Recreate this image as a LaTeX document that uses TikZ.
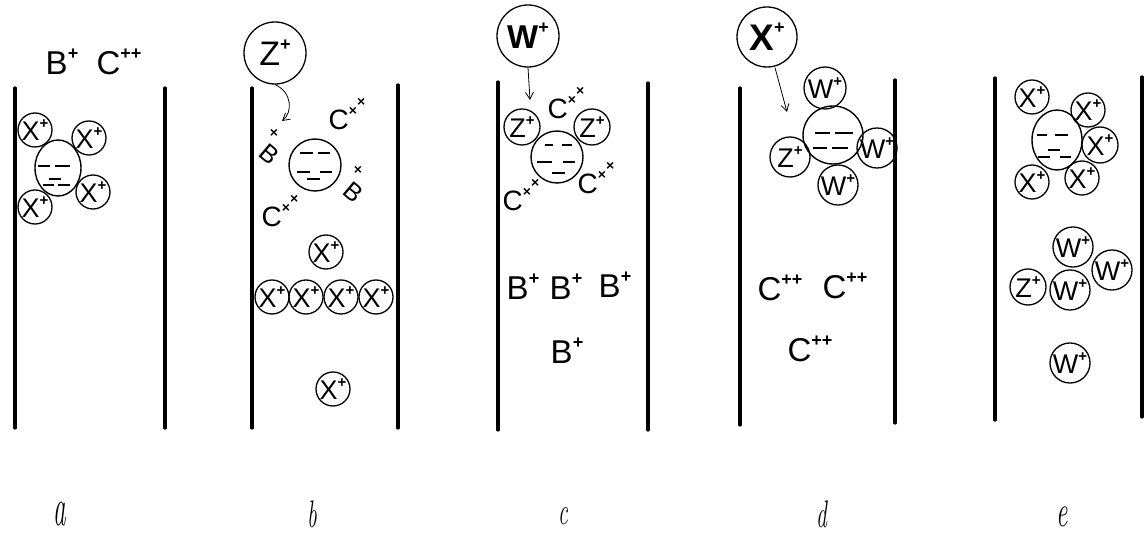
\documentclass[tikz,border=0pt]{standalone}
\usepackage{fontspec}
\newfontfamily\hand{Liberation Sans}
\usetikzlibrary{arrows.meta,shapes.geometric}
% letter with a raised charge sign
\newcommand\ionlbl[3][18]{#2\raisebox{0.45em}{\fontsize{#1}{#1}\selectfont\bfseries #3}}
% C with two small crosses climbing to the right
\newcommand\cxx{C\raisebox{0.5em}{\fontsize{14}{14}\selectfont\bfseries ×}\raisebox{0.85em}{\fontsize{14}{14}\selectfont\bfseries ×}}
% tall italic panel letter
\newcommand\tallit[3][1.6]{\scalebox{0.9}[#1]{\fontsize{#2}{#2}\selectfont\itshape #3}}
\tikzset{
  wall/.style={line width=3.2pt, line cap=round},
  ion/.style={circle, draw, line width=1.3pt, inner sep=0pt, minimum size=#1,
              font=\hand\fontsize{27}{27}\selectfont},
  ion/.default=34pt,
  bigion/.style={circle, draw, line width=1.3pt, inner sep=0pt, minimum size=62pt,
              font=\hand\fontsize{34}{34}\selectfont},
  core/.style={ellipse, draw, line width=1.4pt, inner sep=0pt},
  free/.style={inner sep=0pt, font=\hand\fontsize{33}{33}\selectfont},
  cross/.style={inner sep=0pt, font=\hand\bfseries\fontsize{14}{14}\selectfont},
  thindash/.style={line width=1.7pt},
  bolddash/.style={line width=2.8pt},
  arr/.style={line width=0.8pt, -{Straight Barb[length=7pt,width=8pt]}},
  panel/.style={inner sep=0pt}
}
\begin{document}
\begin{tikzpicture}[x=1pt,y=-1pt]
\useasboundingbox (0,0) rectangle (1145,534);

% ---------- a ----------
\draw[wall] (15,88) -- (15,428);
\draw[wall] (165,88) -- (165,428);
\node[free] (aB) at (62,62) {\ionlbl{B}{+}};
\node[free] (aC) at (119,62) {\ionlbl{C}{++}};
\node[core, minimum width=46pt, minimum height=56pt] (acore) at (58,168) {};
\begin{scope}[shift={(acore.center)}]
  \draw[bolddash] (-20,-2) -- (-8,-2) (-3,-2) -- (12,-2);
  \draw[bolddash] (-9,11) -- (3,11);
  \draw[bolddash] (-15,17) -- (-4,17) (0,17) -- (12,17);
\end{scope}
\node[ion] (ax1) at (35,130) {\ionlbl[15]{X}{+}};
\node[ion] (ax2) at (89,138) {\ionlbl[15]{X}{+}};
\node[ion] (ax3) at (35,207) {\ionlbl[15]{X}{+}};
\node[ion] (ax4) at (93,192) {\ionlbl[15]{X}{+}};

% ---------- b ----------
\draw[wall] (252,88) -- (252,428);
\draw[wall] (398,85) -- (398,428);
\node[bigion] (bz) at (275,53) {\ionlbl{Z}{+}};
\coordinate (btip) at (282,121);
\draw[arr] (bz.south) .. controls (292,92) and (293,112) .. (btip);
\node[core, minimum size=52pt] (bcore) at (315,165) {};
\begin{scope}[shift={(bcore.center)}]
  \draw[thindash] (-15,-12) -- (-2,-12) (3,-12) -- (15,-12);
  \draw[thindash] (-18,7) -- (-5,7) (5,7) -- (17,7);
  \draw[bolddash] (-8,14) -- (5,14);
\end{scope}
\node[free, font=\hand\fontsize{25}{25}\selectfont, rotate=-40] (bB1) at (269,154) {B};
\node[cross] (bB1x) at (274,133) {×};
\node[free, font=\hand\fontsize{25}{25}\selectfont, rotate=-40] (bB2) at (353,192) {B};
\node[cross] (bB2x) at (358,170) {×};
\node[free, font=\hand\fontsize{28}{28}\selectfont] (bC1) at (347,114) {\cxx};
\node[free, font=\hand\fontsize{28}{28}\selectfont] (bC2) at (280,211) {\cxx};
\node[ion] (bx0) at (326,252) {\ionlbl[15]{X}{+}};
\node[ion] (bx1) at (272,297) {\ionlbl[15]{X}{+}};
\node[ion] (bx2) at (306,297) {\ionlbl[15]{X}{+}};
\node[ion] (bx3) at (341,297) {\ionlbl[15]{X}{+}};
\node[ion] (bx4) at (376,297) {\ionlbl[15]{X}{+}};
\node[ion] (bx5) at (333,389) {\ionlbl[15]{X}{+}};

% ---------- c ----------
\draw[wall] (498,82) -- (498,430);
\draw[wall] (648,83) -- (648,430);
\node[bigion, font=\hand\bfseries\fontsize{33}{33}\selectfont] (cw) at (528,36) {\ionlbl{W}{+}};
\coordinate (ctip) at (530,100);
\draw[arr] (cw.south) -- (ctip);
\node[core, minimum size=52pt] (ccore) at (557,157) {};
\begin{scope}[shift={(ccore.center)}]
  \draw[thindash] (-12,-12) -- (-4,-12) (5,-12) -- (15,-12);
  \draw[thindash] (-20,5) -- (-5,5) (6,5) -- (18,5);
  \draw[thindash] (-5,16) -- (8,16);
\end{scope}
\node[ion=36pt] (cz1) at (522,127) {\ionlbl[15]{Z}{+}};
\node[ion=36pt] (cz2) at (592,127) {\ionlbl[15]{Z}{+}};
\node[free, font=\hand\fontsize{28}{28}\selectfont] (cC1) at (566,103) {\cxx};
\node[free, font=\hand\fontsize{28}{28}\selectfont] (cC2) at (596,178) {\cxx};
\node[free, font=\hand\fontsize{28}{28}\selectfont] (cC3) at (521,195) {\cxx};
\node[free] (cB1) at (523,287) {\ionlbl{B}{+}};
\node[free] (cB2) at (566,287) {\ionlbl{B}{+}};
\node[free] (cB3) at (615,285) {\ionlbl{B}{+}};
\node[free] (cB4) at (567,351) {\ionlbl{B}{+}};

% ---------- d ----------
\draw[wall] (740,88) -- (740,425);
\draw[wall] (895,80) -- (895,423);
\node[bigion, minimum size=60pt, font=\hand\bfseries\fontsize{37}{37}\selectfont] (dx) at (767,37) {\ionlbl{X}{+}};
\coordinate (dtip) at (787,112);
\draw[arr] (dx.south) ++(8,0) -- (dtip);
\node[core, minimum width=60pt, minimum height=58pt] (dcore) at (833,135) {};
\begin{scope}[shift={(dcore.center)}]
  \draw[thindash] (-18,-2) -- (-3,-2) (2,-2) -- (20,-2);
  \draw[thindash] (-20,13) -- (-6,13) (-1,13) -- (15,13);
\end{scope}
\node[ion=42pt] (dw1) at (825,88) {\ionlbl[15]{W}{+}};
\node[ion=38pt] (dw2) at (877,148) {\ionlbl[15]{W}{+}};
\node[ion=40pt] (dz) at (790,157) {\ionlbl[15]{Z}{+}};
\node[ion=40pt] (dw3) at (838,185) {\ionlbl[15]{W}{+}};
\node[free] (dC1) at (780,288) {\ionlbl{C}{++}};
\node[free] (dC2) at (845,286) {\ionlbl{C}{++}};
\node[free] (dC3) at (810,349) {\ionlbl{C}{++}};

% ---------- e ----------
\draw[wall] (995,78) -- (995,420);
\draw[wall] (1142,77) -- (1142,417);
\node[core, minimum width=50pt, minimum height=60pt] (ecore) at (1057,140) {};
\begin{scope}[shift={(ecore.center)}]
  \draw[bolddash] (-20,-5) -- (-10,-5) (-2,-5) -- (11,-5);
  \draw[bolddash] (-9,10) -- (3,10);
  \draw[bolddash] (-19,17) -- (-7,17) (3,17) -- (14,17);
\end{scope}
\node[ion] (ex1) at (1032,97) {\ionlbl[15]{X}{+}};
\node[ion] (ex2) at (1088,110) {\ionlbl[15]{X}{+}};
\node[ion=36pt] (ex3) at (1100,145) {\ionlbl[15]{X}{+}};
\node[ion] (ex4) at (1032,182) {\ionlbl[15]{X}{+}};
\node[ion] (ex5) at (1082,178) {\ionlbl[15]{X}{+}};
\node[ion=38pt] (ew1) at (1073,247) {\ionlbl[15]{W}{+}};
\node[ion=38pt] (ew2) at (1112,270) {\ionlbl[15]{W}{+}};
\node[ion=40pt] (ew3) at (1070,290) {\ionlbl[15]{W}{+}};
\node[ion=36pt] (ez) at (1028,287) {\ionlbl[15]{Z}{+}};
\node[ion=36pt] (ew4) at (1070,363) {\ionlbl[15]{W}{+}};

% ---------- panel letters ----------
\node[panel] (la) at (60,514) {\tallit[1.9]{28}{a}};
\node[panel] (lb) at (312,514) {\tallit{24}{b}};
\node[panel] (lc) at (563,516) {\tallit{24}{c}};
\node[panel] (ld) at (822,514) {\tallit{24}{d}};
\node[panel] (le) at (1062,517) {\tallit{28}{e}};
\end{tikzpicture}
\end{document}
